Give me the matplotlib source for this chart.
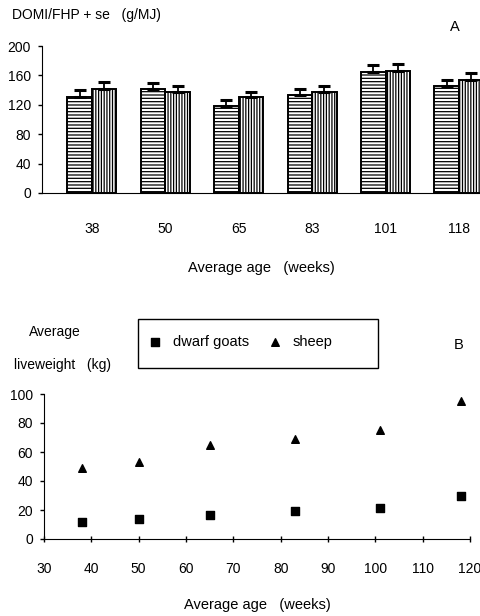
import numpy as np
import matplotlib
matplotlib.use('Agg')
import matplotlib.pyplot as plt
from matplotlib.patches import Rectangle

plt.rcParams['font.family'] = ['Liberation Sans Narrow', 'Liberation Sans', 'DejaVu Sans']
plt.rcParams['hatch.linewidth'] = 0.9

# panel A: DOMI/FHP per age group (g/MJ), bar value and standard error
age_groups = ['38', '50', '65', '83', '101', '118']
goats_domi = [131, 141, 118, 133, 165, 146]
goats_se = [9, 9, 9, 8, 9, 8]
sheep_domi = [141, 137, 130, 138, 166, 154]
sheep_se = [10, 9, 8, 8, 9, 9]

# panel B: average liveweight (kg) against average age (weeks)
age_weeks = [38, 50, 65, 83, 101, 118]
goats_weight = [11.5, 14, 16.5, 19, 21.5, 29.5]
sheep_weight = [49, 53, 65, 69, 75, 95]

W, H = 481, 616
fig = plt.figure(figsize=(W / 100, H / 100), dpi=100)

# ---- panel A
axA = fig.add_axes([42 / W, 1 - 193 / H, (481 - 42) / W, (193 - 46) / H])
x = np.arange(len(age_groups))
bw = 0.334
axA.bar(x - bw / 2, goats_domi, bw, color='white', edgecolor='black',
        linewidth=1.4, hatch='-----')
axA.bar(x + bw / 2, sheep_domi, bw, color='white', edgecolor='black',
        linewidth=1.4, hatch='||||||')
axA.errorbar(x - bw / 2, goats_domi, yerr=[np.zeros(6), goats_se], fmt='none',
             ecolor='black', elinewidth=1.3, capsize=4, capthick=2.2)
axA.errorbar(x + bw / 2, sheep_domi, yerr=[np.zeros(6), sheep_se], fmt='none',
             ecolor='black', elinewidth=1.3, capsize=4, capthick=2.2)
axA.set_xlim(-0.68, 5.30)
axA.set_ylim(0, 200)
axA.set_yticks([0, 40, 80, 120, 160, 200])
axA.set_xticks(x)
axA.set_xticklabels(age_groups)
axA.tick_params(axis='x', length=0, pad=21, labelsize=10)
axA.tick_params(axis='y', direction='out', length=3, width=1, pad=5, labelsize=10)
axA.spines['top'].set_visible(False)
axA.spines['right'].set_visible(False)
axA.set_xlabel('Average age   (weeks)', fontsize=10.5, labelpad=18)
fig.text(12 / W, 1 - 15 / H, 'DOMI/FHP + se   (g/MJ)', fontsize=10, va='center', ha='left')
fig.text(455 / W, 1 - 27 / H, 'A', fontsize=10.5, va='center', ha='center')

# ---- panel B
axB = fig.add_axes([44 / W, 1 - 539 / H, (470 - 44) / W, (539 - 394) / H])
axB.scatter(age_weeks, goats_weight, marker='s', s=40, color='black', label='dwarf goats')
axB.scatter(age_weeks, sheep_weight, marker='^', s=30, color='black', label='sheep')
axB.set_xlim(30, 120)
axB.set_ylim(0, 100)
axB.set_xticks(np.arange(30, 121, 10))
axB.set_yticks(np.arange(0, 101, 20))
axB.tick_params(axis='x', direction='inout', length=5, width=1, pad=14, labelsize=10)
axB.tick_params(axis='y', direction='out', length=3, width=1, pad=5, labelsize=10)
axB.spines['top'].set_visible(False)
axB.spines['right'].set_visible(False)
axB.set_xlabel('Average age   (weeks)', fontsize=10.5, labelpad=16)
for c in axB.collections:
    c.set_clip_on(False)

fig.text(29 / W, 1 - 332 / H, 'Average', fontsize=10, va='center', ha='left')
fig.text(14 / W, 1 - 365 / H, 'liveweight   (kg)', fontsize=10, va='center', ha='left')
fig.text(459 / W, 1 - 345 / H, 'B', fontsize=10.5, va='center', ha='center')

# legend box drawn separately so the entries sit left inside it
fig.patches.append(Rectangle((138 / W, 1 - 368 / H), (378 - 138) / W, (368 - 319) / H,
                             transform=fig.transFigure, fill=False,
                             edgecolor='black', linewidth=1.0))
fig.legend(loc='center left', bbox_to_anchor=(148 / W, 1 - 342 / H), ncol=2,
           frameon=False, fontsize=10.5, handletextpad=0.7, columnspacing=1.3,
           handlelength=1.0, borderaxespad=0, borderpad=0)

fig.savefig('out.png', dpi=100)
